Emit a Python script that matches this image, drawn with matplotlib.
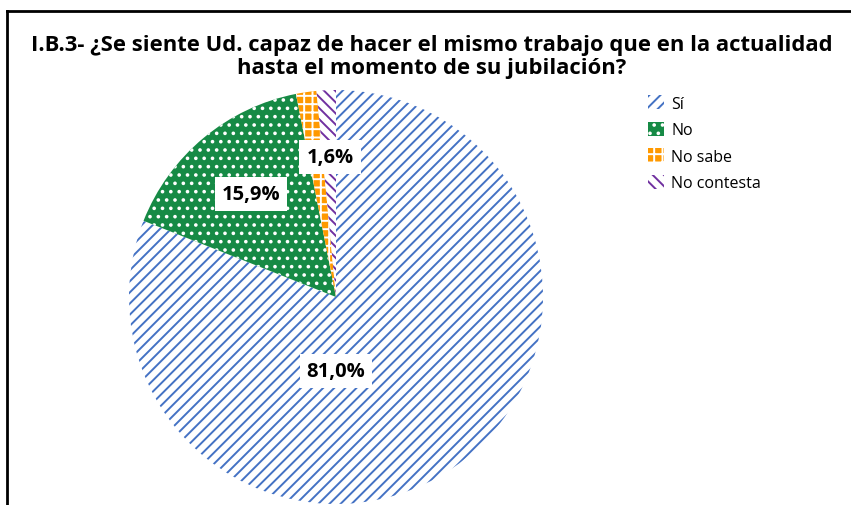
import matplotlib
matplotlib.use("Agg")
import matplotlib.pyplot as plt
from matplotlib.lines import Line2D
from matplotlib.patches import Patch

labels = ["Sí", "No", "No sabe", "No contesta"]
values = [81.0, 15.9, 1.6, 1.5]
shown = ["81,0%", "15,9%", "1,6%", None]

face = ["white", "#168A45", "#FF9900", "white"]
hatch_col = ["#4472C4", "white", "white", "#7030A0"]
hatches = ["///", "..", "++", "\\\\\\"]

title = ("I.B.3- ¿Se siente Ud. capaz de hacer el mismo trabajo que en la actualidad\n"
         "hasta el momento de su jubilación?")

plt.rcParams["font.family"] = ["Open Sans", "DejaVu Sans"]
plt.rcParams["hatch.linewidth"] = 1.4

W, H = 851, 506
fig = plt.figure(figsize=(W / 100, H / 100), dpi=100)

# pie axes: centre ~ (336, 298) px, radius ~ 207 px; axes box kept larger than the pie
cx, cy, r = 336, 298, 207
pad = 1.15
ax = fig.add_axes([(cx - r * pad) / W, 1 - (cy + r * pad) / H, 2 * r * pad / W, 2 * r * pad / H])
wedges, _ = ax.pie(values, startangle=90, counterclock=False, radius=1.0)
ax.set_xlim(-pad, pad)
ax.set_ylim(-pad, pad)
ax.set_aspect("equal")
ax.axis("off")

for w, fc, hc, h in zip(wedges, face, hatch_col, hatches):
    w.set_facecolor(fc)
    w.set_edgecolor(hc)
    w.set_hatch(h)
    w.set_linewidth(0)

# data labels (white boxes)
label_px = [(336, 372), (251, 195), (330, 158), None]
for txt, pos in zip(shown, label_px):
    if txt is None:
        continue
    fig.text(pos[0] / W, 1 - pos[1] / H, txt, ha="center", va="center",
             fontsize=14.5, fontweight="bold", color="black",
             bbox=dict(boxstyle="square,pad=0.35", fc="white", ec="none"))

fig.text(432 / W, 1 - 57 / H, title, ha="center", va="center",
         fontsize=15.8, fontweight="bold", linespacing=1.1)

handles = [Patch(facecolor=fc, edgecolor=hc, hatch=h, linewidth=0)
           for fc, hc, h in zip(face, hatch_col, hatches)]
fig.legend(handles, labels, loc="upper left", bbox_to_anchor=(648 / W, 1 - 96 / H),
           frameon=False, fontsize=11.5, handlelength=1.0, handleheight=1.0,
           handletextpad=0.45, labelspacing=0.62, borderaxespad=0, borderpad=0)

# chart frame (left and top edges visible)
fig.add_artist(Line2D([7 / W, 7 / W], [0, 1 - 12 / H], color="black", lw=2,
                      transform=fig.transFigure))
fig.add_artist(Line2D([7 / W, 1], [1 - 12 / H, 1 - 12 / H], color="black", lw=2,
                      transform=fig.transFigure))

fig.savefig("out.png", dpi=100)
